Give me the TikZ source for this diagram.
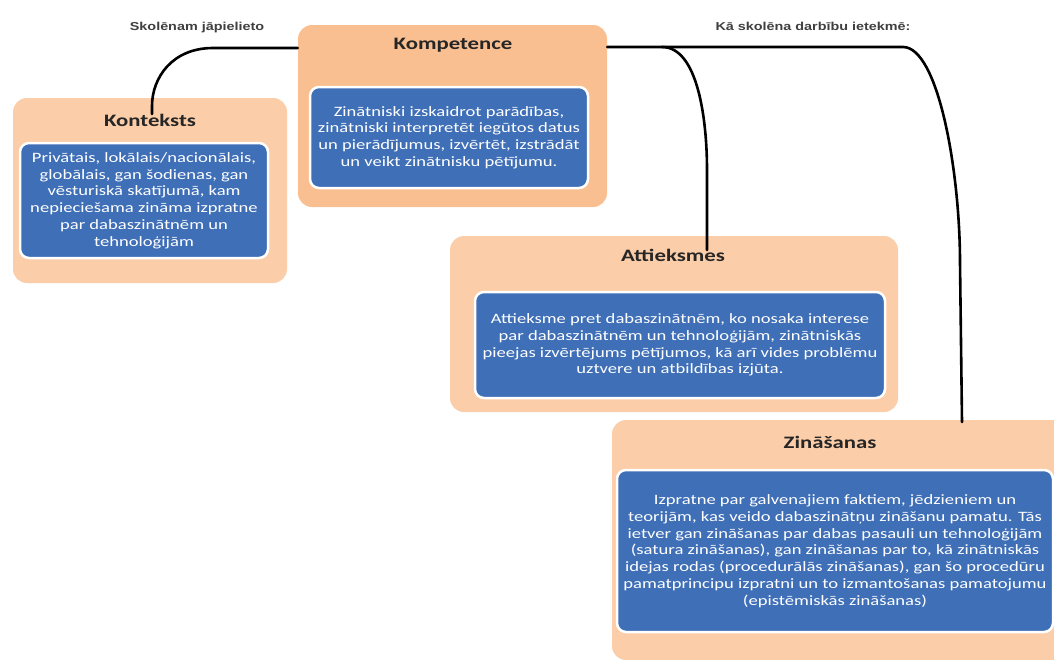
\documentclass[tikz,border=0pt]{standalone}
\usepackage{fontspec}
\setmainfont{Carlito}[FakeStretch=1.3]
\newfontfamily\labelfont{Liberation Sans}[FakeStretch=1.25]
\definecolor{peach}{HTML}{FBCDA8}
\definecolor{peachdark}{HTML}{F9BF90}
\definecolor{bluebox}{HTML}{3F6FB7}
\begin{document}
\begin{tikzpicture}[x=1pt,y=-1pt,
  outer/.style={fill=peach, rounded corners=14pt, draw=none, inner sep=0pt},
  inner/.style={fill=bluebox, draw=white, line width=2.5pt, rounded corners=9pt,
    text=white, align=center, inner sep=0pt, font=\fontsize{14.3}{16.8}\selectfont},
  ttl/.style={font=\bfseries\fontsize{17.5}{20}\selectfont, text=black!85, inner sep=1pt},
  lbl/.style={font=\labelfont\bfseries\fontsize{11.5}{13}\selectfont, text=black!75},
  conn/.style={line width=2.6pt, black, line cap=round}
]
\clip (0,0) rectangle (1054,659);
\fill[white] (0,0) rectangle (1054,659);

% outer boxes
\node[outer, minimum width=274pt, minimum height=185pt] (kont) at (150,190.5) {};
\node[outer, fill=peachdark, minimum width=309pt, minimum height=182pt] (komp) at (452.5,116) {};
\node[outer, minimum width=448pt, minimum height=176pt] (att) at (674,324) {};
\node[outer, minimum width=454pt, minimum height=240pt] (zin) at (839,540) {};

% inner boxes
\node[inner, minimum width=248pt, minimum height=115pt] (kontb) at (144,200.5)
 {Privātais, lokālais/nacionālais,\\globālais, gan šodienas, gan\\vēsturiskā skatījumā, kam\\nepieciešama zināma izpratne\\par dabaszinātnēm un\\tehnoloģijām};
\node[inner, minimum width=278pt, minimum height=101pt] (kompb) at (449,137.5)
 {Zinātniski izskaidrot parādības,\\zinātniski interpretēt iegūtos datus\\un pierādījumus, izvērtēt, izstrādāt\\un veikt zinātnisku pētījumu.};
\node[inner, minimum width=410pt, minimum height=106pt] (attb) at (680,345)
 {Attieksme pret dabaszinātnēm, ko nosaka interese\\par dabaszinātnēm un tehnoloģijām, zinātniskās\\pieejas izvērtējums pētījumos, kā arī vides problēmu\\uztvere un atbildības izjūta.};
\node[inner, minimum width=436pt, minimum height=162pt] (zinb) at (835,551)
 {Izpratne par galvenajiem faktiem, jēdzieniem un\\teorijām, kas veido dabaszinātņu zināšanu pamatu. Tās\\ietver gan zināšanas par dabas pasauli un tehnoloģijām\\(satura zināšanas), gan zināšanas par to, kā zinātniskās\\idejas rodas (procedurālās zināšanas), gan šo  procedūru\\pamatprincipu izpratni un to izmantošanas pamatojumu\\(epistēmiskās zināšanas)};

% titles
\node[ttl] (kontt) at (150,120) {Konteksts};
\node[ttl] (kompt) at (453,45) {Kompetence};
\node[ttl] (attt) at (673,255) {Attieksmes};
\node[ttl] (zint) at (830,442) {Zināšanas};

% labels
\node[lbl] (lblL) at (197,28) {Skolēnam jāpielieto};
\node[lbl] (lblR) at (813,26) {Kā skolēna darbību ietekmē:};

% connector end points
\coordinate (kompW) at (komp.west |- 0,48);
\coordinate (kompE) at (komp.east |- 0,47);
\coordinate (kontIn) at (152,114);
\coordinate (attIn) at (707,250);
\coordinate (zinIn) at (962,422);

% connectors
\draw[conn] (kompW) -- (213,48) .. controls (172,48) and (152,78) .. (152,106) -- (kontIn);
\draw[conn] (kompE) -- (903,47) .. controls (938,47) and (960,170) .. (960,263) -- (zinIn);
\draw[conn] (662,47) .. controls (698,47) and (707,120) .. (707,170) -- (attIn);
\end{tikzpicture}
\end{document}
